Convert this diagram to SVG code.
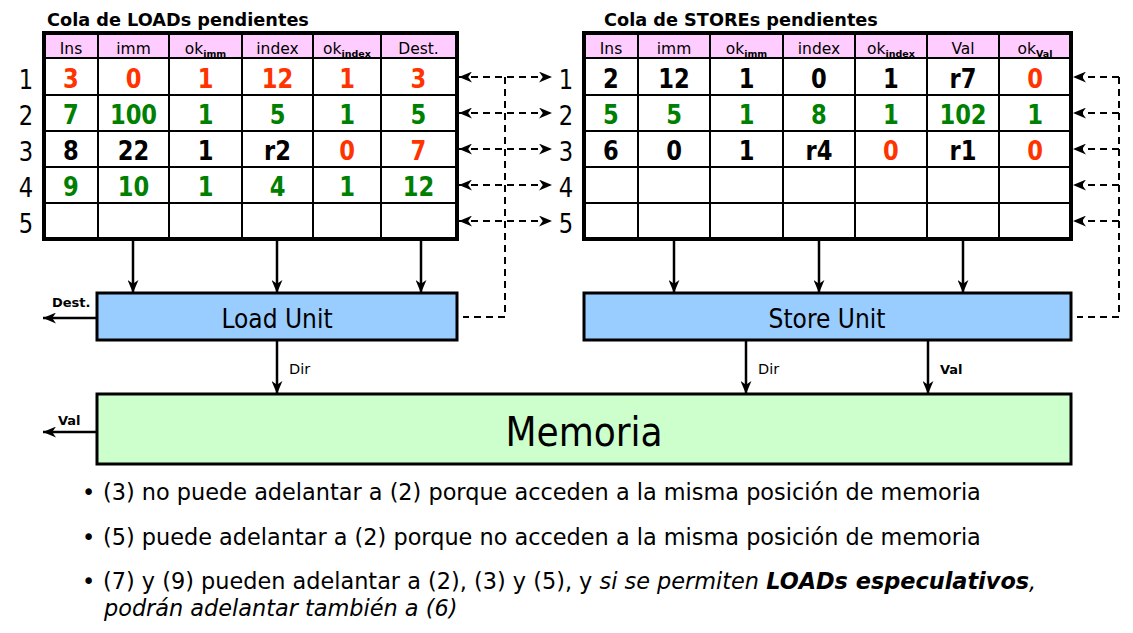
<svg xmlns="http://www.w3.org/2000/svg" width="1133" height="633" viewBox="0 0 1133 633">
<style>
text{font-family:"DejaVu Sans","Liberation Sans",sans-serif;fill:#000}
.cond{font-family:"DejaVu Sans Condensed","DejaVu Sans",sans-serif;font-stretch:condensed}
.title{font-size:17.7px;font-weight:bold}
.hdr{font-size:15.5px;text-anchor:middle}
.sub{font-size:9.5px;font-weight:bold}
.cell{font-size:26px;font-weight:bold;text-anchor:middle}
.r{fill:#FF3300}
.g{fill:#008000}
.rowlbl{font-size:26px;text-anchor:middle}
.unit{font-size:26px;text-anchor:middle}
.mem{font-size:40px;text-anchor:middle}
.lbl{font-size:14.5px}
.lblb{font-size:13px;font-weight:bold}
.bul{font-size:22.4px}
.outer{fill:none;stroke:#000;stroke-width:4}
.grid{stroke:#000;stroke-width:2;fill:none}
.hfill{fill:#FFCCFF}
.ufill{fill:#99CCFF;stroke:#000;stroke-width:3}
.mfill{fill:#CCFFCC;stroke:#000;stroke-width:3}
.solid{stroke:#000;stroke-width:2.5;fill:none}
.dash{stroke:#000;stroke-width:2;fill:none;stroke-dasharray:7 5}
</style>
<defs>
<marker id="ah" viewBox="0 0 12 10" refX="12" refY="5" markerWidth="13" markerHeight="11" markerUnits="userSpaceOnUse" orient="auto-start-reverse"><path d="M0,0 L12,5 L0,10 L3.5,5 z" fill="#000"/></marker>
</defs>

<g id="loadQueue">
<text class="title" x="47" y="26">Cola de LOADs pendientes</text>
<rect class="hfill" x="44" y="33" width="412" height="25"/>
<path class="grid" d="M44,58H457 M44,95H457 M44,131H457 M44,167H457 M44,203H457 M98,33V239 M169,33V239 M242,33V239 M313,33V239 M381,33V239"/>
<rect class="outer" x="44" y="33" width="413" height="206"/>
<text class="hdr" x="71" y="54">Ins</text>
<text class="hdr" x="133.5" y="54">imm</text>
<text class="hdr" x="205.5" y="54">ok<tspan class="sub" dy="2.5">imm</tspan></text>
<text class="hdr" x="277.5" y="54">index</text>
<text class="hdr" x="347" y="54">ok<tspan class="sub" dy="2.5">index</tspan></text>
<text class="hdr" x="418.5" y="54">Dest.</text>
<g transform="scale(0.87,1)">
<text class="cell r" x="81.61" y="88">3</text>
<text class="cell r" x="153.45" y="88">0</text>
<text class="cell r" x="236.21" y="88">1</text>
<text class="cell r" x="318.97" y="88">12</text>
<text class="cell r" x="398.85" y="88">1</text>
<text class="cell r" x="481.03" y="88">3</text>
<text class="cell g" x="81.61" y="124">7</text>
<text class="cell g" x="153.45" y="124">100</text>
<text class="cell g" x="236.21" y="124">1</text>
<text class="cell g" x="318.97" y="124">5</text>
<text class="cell g" x="398.85" y="124">1</text>
<text class="cell g" x="481.03" y="124">5</text>
<text class="cell" x="81.61" y="160">8</text>
<text class="cell" x="153.45" y="160">22</text>
<text class="cell" x="236.21" y="160">1</text>
<text class="cell" x="318.97" y="160">r2</text>
<text class="cell r" x="398.85" y="160">0</text>
<text class="cell r" x="481.03" y="160">7</text>
<text class="cell g" x="81.61" y="196">9</text>
<text class="cell g" x="153.45" y="196">10</text>
<text class="cell g" x="236.21" y="196">1</text>
<text class="cell g" x="318.97" y="196">4</text>
<text class="cell g" x="398.85" y="196">1</text>
<text class="cell g" x="481.03" y="196">12</text>
<text class="rowlbl" x="29.89" y="89">1</text>
<text class="rowlbl" x="29.89" y="125">2</text>
<text class="rowlbl" x="29.89" y="161">3</text>
<text class="rowlbl" x="29.89" y="197">4</text>
<text class="rowlbl" x="29.89" y="233">5</text>
</g>
</g>

<g id="storeQueue">
<text class="title" x="604" y="26">Cola de STOREs pendientes</text>
<rect class="hfill" x="584" y="33" width="487" height="25"/>
<path class="grid" d="M584,58H1071 M584,95H1071 M584,131H1071 M584,167H1071 M584,203H1071 M638,33V239 M710,33V239 M783,33V239 M855,33V239 M927,33V239 M999,33V239"/>
<rect class="outer" x="584" y="33" width="487" height="206"/>
<text class="hdr" x="611" y="54">Ins</text>
<text class="hdr" x="674" y="54">imm</text>
<text class="hdr" x="746.5" y="54">ok<tspan class="sub" dy="2.5">imm</tspan></text>
<text class="hdr" x="819" y="54">index</text>
<text class="hdr" x="891" y="54">ok<tspan class="sub" dy="2.5">index</tspan></text>
<text class="hdr" x="963" y="54">Val</text>
<text class="hdr" x="1035" y="54">ok<tspan class="sub" dy="2.5">Val</tspan></text>
<g transform="scale(0.87,1)">
<text class="cell" x="702.30" y="88">2</text>
<text class="cell" x="774.71" y="88">12</text>
<text class="cell" x="858.05" y="88">1</text>
<text class="cell" x="941.38" y="88">0</text>
<text class="cell" x="1024.14" y="88">1</text>
<text class="cell" x="1106.90" y="88">r7</text>
<text class="cell r" x="1189.66" y="88">0</text>
<text class="cell g" x="702.30" y="124">5</text>
<text class="cell g" x="774.71" y="124">5</text>
<text class="cell g" x="858.05" y="124">1</text>
<text class="cell g" x="941.38" y="124">8</text>
<text class="cell g" x="1024.14" y="124">1</text>
<text class="cell g" x="1106.90" y="124">102</text>
<text class="cell g" x="1189.66" y="124">1</text>
<text class="cell" x="702.30" y="160">6</text>
<text class="cell" x="774.71" y="160">0</text>
<text class="cell" x="858.05" y="160">1</text>
<text class="cell" x="941.38" y="160">r4</text>
<text class="cell r" x="1024.14" y="160">0</text>
<text class="cell" x="1106.90" y="160">r1</text>
<text class="cell r" x="1189.66" y="160">0</text>
<text class="rowlbl" x="650.57" y="89">1</text>
<text class="rowlbl" x="650.57" y="125">2</text>
<text class="rowlbl" x="650.57" y="161">3</text>
<text class="rowlbl" x="650.57" y="197">4</text>
<text class="rowlbl" x="650.57" y="233">5</text>
</g>
</g>

<g id="loadUnit">
<rect class="ufill" x="97" y="293" width="360" height="47"/>
<text class="unit cond" x="277" y="328">Load Unit</text>
</g>

<g id="storeUnit">
<rect class="ufill" x="584" y="293" width="487" height="47"/>
<text class="unit cond" x="827" y="328">Store Unit</text>
</g>

<g id="memoria">
<rect class="mfill" x="97" y="394" width="974" height="70"/>
<text class="mem cond" x="584" y="446">Memoria</text>
</g>

<g id="connectors">
<path class="solid" marker-end="url(#ah)" d="M133,240V293"/>
<path class="solid" marker-end="url(#ah)" d="M277,240V293"/>
<path class="solid" marker-end="url(#ah)" d="M421,240V293"/>
<path class="solid" marker-end="url(#ah)" d="M674,240V293"/>
<path class="solid" marker-end="url(#ah)" d="M819,240V293"/>
<path class="solid" marker-end="url(#ah)" d="M963,240V293"/>
<path class="solid" marker-end="url(#ah)" d="M277,341V394"/>
<path class="solid" marker-end="url(#ah)" d="M746,341V394"/>
<path class="solid" marker-end="url(#ah)" d="M928,341V394"/>
<path class="solid" marker-end="url(#ah)" d="M96,318H43"/>
<path class="solid" marker-end="url(#ah)" d="M96,432H43"/>
<path class="dash" marker-start="url(#ah)" marker-end="url(#ah)" d="M459,77H552"/>
<path class="dash" marker-start="url(#ah)" marker-end="url(#ah)" d="M459,113H552"/>
<path class="dash" marker-start="url(#ah)" marker-end="url(#ah)" d="M459,149H552"/>
<path class="dash" marker-start="url(#ah)" marker-end="url(#ah)" d="M459,185H552"/>
<path class="dash" marker-start="url(#ah)" marker-end="url(#ah)" d="M459,221H552"/>
<path class="dash" d="M505,77V317H463"/>
<path class="dash" marker-end="url(#ah)" d="M1119,77H1073"/>
<path class="dash" marker-end="url(#ah)" d="M1119,113H1073"/>
<path class="dash" marker-end="url(#ah)" d="M1119,149H1073"/>
<path class="dash" marker-end="url(#ah)" d="M1119,185H1073"/>
<path class="dash" marker-end="url(#ah)" d="M1119,221H1073"/>
<path class="dash" d="M1119,77V317H1077"/>
<text class="lblb" x="52" y="307">Dest.</text>
<text class="lblb" x="58" y="425">Val</text>
<text class="lbl" x="289" y="374">Dir</text>
<text class="lbl" x="758" y="374">Dir</text>
<text class="lblb" x="940" y="374">Val</text>
</g>

<g id="notes">
<text class="bul" x="82" y="500">•</text>
<text class="bul" x="82" y="545">•</text>
<text class="bul" x="82" y="589">•</text>
<text class="bul" x="103" y="500">(3) no puede adelantar a (2) porque acceden a la misma posición de memoria</text>
<text class="bul" x="103" y="545">(5) puede adelantar a (2) porque no acceden a la misma posición de memoria</text>
<text class="bul" x="103" y="589">(7) y (9) pueden adelantar a (2), (3) y (5), y <tspan font-style="italic">si se permiten </tspan><tspan font-style="italic" font-weight="bold">LOADs especulativos</tspan><tspan font-style="italic">,</tspan></text>
<text class="bul" x="104" y="616" font-style="italic">podrán adelantar también a (6)</text>
</g>
</svg>
